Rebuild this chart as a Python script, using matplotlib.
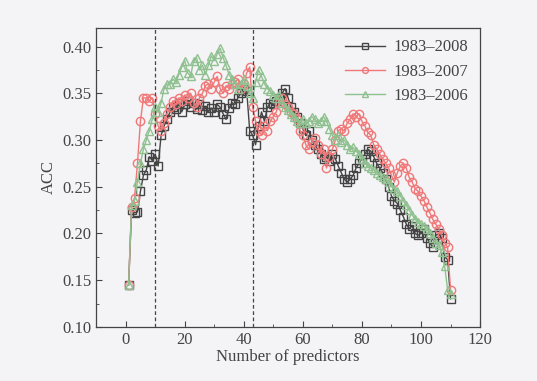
import numpy as np
import matplotlib
matplotlib.use("Agg")
import matplotlib.pyplot as plt
from matplotlib.ticker import MultipleLocator

plt.rcParams['font.family'] = ['Liberation Serif', 'DejaVu Serif']

# Number of predictors
n_pred = list(range(1, 111))

# ACC, 1983-2008
acc_2008 = [0.145, 0.225, 0.222, 0.223, 0.245, 0.262, 0.268, 0.282, 0.278, 0.285,
            0.272, 0.305, 0.315, 0.322, 0.330, 0.335, 0.333, 0.340, 0.330, 0.338,
            0.342, 0.335, 0.340, 0.333, 0.338, 0.332, 0.336, 0.330, 0.334, 0.330,
            0.338, 0.335, 0.328, 0.322, 0.334, 0.340, 0.338, 0.345, 0.350, 0.355,
            0.352, 0.310, 0.305, 0.295, 0.315, 0.330, 0.320, 0.335, 0.340, 0.338,
            0.342, 0.345, 0.350, 0.355, 0.345, 0.335, 0.330, 0.325, 0.318, 0.312,
            0.305, 0.310, 0.300, 0.295, 0.290, 0.285, 0.280, 0.282, 0.278, 0.285,
            0.280, 0.272, 0.265, 0.258, 0.255, 0.258, 0.262, 0.270, 0.275, 0.280,
            0.285, 0.290, 0.288, 0.282, 0.275, 0.270, 0.265, 0.258, 0.250, 0.240,
            0.235, 0.232, 0.225, 0.218, 0.210, 0.205, 0.208, 0.200, 0.198, 0.200,
            0.205, 0.195, 0.190, 0.185, 0.198, 0.200, 0.195, 0.175, 0.172, 0.130]

# ACC, 1983-2007
acc_2007 = [0.145, 0.228, 0.238, 0.275, 0.320, 0.345, 0.345, 0.342, 0.345, 0.328,
            0.315, 0.310, 0.318, 0.328, 0.335, 0.342, 0.338, 0.345, 0.342, 0.348,
            0.345, 0.350, 0.340, 0.335, 0.345, 0.350, 0.358, 0.360, 0.355, 0.362,
            0.368, 0.355, 0.350, 0.358, 0.355, 0.360, 0.362, 0.365, 0.355, 0.360,
            0.372, 0.378, 0.335, 0.320, 0.310, 0.305, 0.315, 0.310, 0.320, 0.325,
            0.330, 0.340, 0.345, 0.338, 0.335, 0.330, 0.328, 0.322, 0.310, 0.305,
            0.295, 0.290, 0.298, 0.302, 0.295, 0.285, 0.290, 0.270, 0.282, 0.290,
            0.300, 0.310, 0.312, 0.310, 0.318, 0.322, 0.328, 0.325, 0.328, 0.320,
            0.315, 0.308, 0.305, 0.295, 0.290, 0.285, 0.280, 0.275, 0.270, 0.262,
            0.255, 0.265, 0.272, 0.275, 0.270, 0.260, 0.255, 0.248, 0.245, 0.240,
            0.235, 0.228, 0.222, 0.215, 0.210, 0.205, 0.198, 0.190, 0.185, 0.140]

# ACC, 1983-2006
acc_2006 = [0.145, 0.230, 0.235, 0.255, 0.275, 0.290, 0.300, 0.310, 0.322, 0.335,
            0.330, 0.340, 0.355, 0.360, 0.360, 0.365, 0.362, 0.370, 0.378, 0.385,
            0.372, 0.368, 0.385, 0.388, 0.375, 0.380, 0.370, 0.380, 0.390, 0.385,
            0.392, 0.398, 0.388, 0.380, 0.370, 0.365, 0.360, 0.355, 0.360, 0.365,
            0.358, 0.350, 0.345, 0.362, 0.375, 0.368, 0.360, 0.355, 0.352, 0.348,
            0.345, 0.348, 0.340, 0.335, 0.332, 0.328, 0.325, 0.320, 0.318, 0.322,
            0.318, 0.320, 0.325, 0.322, 0.318, 0.320, 0.325, 0.320, 0.312, 0.305,
            0.300, 0.305, 0.298, 0.300, 0.295, 0.290, 0.292, 0.288, 0.285, 0.280,
            0.275, 0.272, 0.270, 0.268, 0.265, 0.262, 0.260, 0.258, 0.255, 0.250,
            0.248, 0.245, 0.240, 0.235, 0.230, 0.225, 0.220, 0.215, 0.212, 0.210,
            0.208, 0.205, 0.200, 0.195, 0.190, 0.188, 0.180, 0.165, 0.140, 0.135]

# vertical reference lines
cut_lines = [10, 43]

bg = '#f4f4f6'
fig = plt.figure(figsize=(5.37, 3.81), dpi=100, facecolor=bg)
ax = fig.add_axes([0.179, 0.142, 0.715, 0.785], facecolor=bg)

ax.plot(n_pred, acc_2008, color='#444444', marker='s', mfc='none', ms=5.5,
        mew=1.0, lw=1.0, label='1983\u20132008')
ax.plot(n_pred, acc_2007, color='#f07878', marker='o', mfc='none', ms=6,
        mew=1.0, lw=1.0, label='1983\u20132007')
ax.plot(n_pred, acc_2006, color='#8fc08f', marker='^', mfc='none', ms=6,
        mew=1.0, lw=1.0, label='1983\u20132006')

for c in cut_lines:
    ax.axvline(c, color='#444444', ls='--', lw=0.9, dashes=(3, 2))

ax.set_xlim(-10, 120)
ax.set_ylim(0.10, 0.42)
ax.xaxis.set_major_locator(MultipleLocator(20))
ax.xaxis.set_minor_locator(MultipleLocator(10))
ax.yaxis.set_major_locator(MultipleLocator(0.05))
ax.yaxis.set_minor_locator(MultipleLocator(0.025))
ax.tick_params(which='both', direction='in', colors='#444444', labelsize=12)
ax.tick_params(which='major', length=4)
ax.tick_params(which='minor', length=2.5)
ax.set_yticks([0.10, 0.15, 0.20, 0.25, 0.30, 0.35, 0.40])
ax.set_yticklabels(['0.10', '0.15', '0.20', '0.25', '0.30', '0.35', '0.40'])
for s in ax.spines.values():
    s.set_color('#444444')
    s.set_linewidth(0.9)

ax.set_xlabel('Number of predictors', fontsize=12, color='#444444', labelpad=1)
ax.set_ylabel('ACC', fontsize=12, color='#444444')

leg = ax.legend(loc='upper right', frameon=False, fontsize=12, handlelength=2.4,
                labelspacing=0.5, borderaxespad=0.3, handletextpad=0.5,
                markerscale=0.7)
for t in leg.get_texts():
    t.set_color('#444444')

fig.savefig('out.png', dpi=100, facecolor=bg)
